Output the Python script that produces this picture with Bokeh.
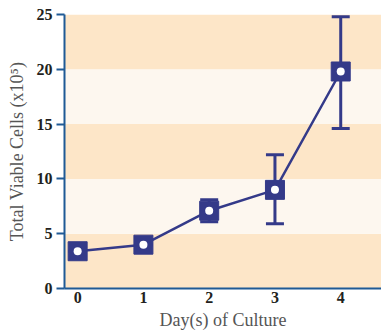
from bokeh.plotting import figure
from bokeh.models import ColumnDataSource, Whisker, TeeHead, FixedTicker
from bokeh.embed import file_html
from bokeh.resources import INLINE

days = [0, 1, 2, 3, 4]
cells = [3.4, 4.0, 7.1, 9.0, 19.8]
err_low = [3.4, 4.0, 6.1, 5.9, 14.6]
err_high = [3.4, 4.0, 8.1, 12.2, 24.8]
y_ticks = [0, 5, 10, 15, 20, 25]
x_ticks = [0, 1, 2, 3, 4]
band_bottom = [0, 5, 10, 15, 20]
band_top = [5, 10, 15, 20, 25]

NAVY = "#343A89"
AXIS = "#1F5A96"
band_colors = ["#FDE6C8", "#FDF7EF", "#FDE6C8", "#FDF7EF", "#FDE6C8"]

p = figure(width=381, height=332, output_backend="svg", toolbar_location=None,
           x_range=(-0.2, 4.62), y_range=(0, 25),
           min_border_left=64, min_border_right=0, min_border_top=14, min_border_bottom=39)
p.xgrid.visible = False
p.ygrid.visible = False
p.outline_line_color = None
p.background_fill_color = "white"

bands = p.quad(left=-0.2, right=4.62, bottom=band_bottom, top=band_top,
               fill_color=band_colors, line_color=None)
bands.level = "image"

src = ColumnDataSource(dict(x=days, y=cells, lo=err_low, hi=err_high))
w = Whisker(source=src, base="x", lower="lo", upper="hi",
            line_color=NAVY, line_width=3, level="underlay",
            upper_head=TeeHead(size=18, line_color=NAVY, line_width=3),
            lower_head=TeeHead(size=18, line_color=NAVY, line_width=3))
p.add_layout(w)

p.line("x", "y", source=src, line_color=NAVY, line_width=2.5)
p.scatter("x", "y", source=src, marker="square", size=19, fill_color=NAVY, line_color=NAVY)
p.scatter("x", "y", source=src, marker="circle", size=8, fill_color="white", line_color=None)

tick_font = "Liberation Sans Narrow"
for ax in (p.xaxis[0], p.yaxis[0]):
    ax.axis_line_color = AXIS
    ax.axis_line_width = 2
    ax.major_tick_line_color = AXIS
    ax.major_tick_line_width = 2
    ax.minor_tick_line_color = None
    ax.major_label_text_font = tick_font
    ax.major_label_text_font_style = "bold"
    ax.major_label_text_font_size = "16px"
    ax.major_label_text_color = "#231F20"
    ax.axis_label_text_font = "Liberation Serif"
    ax.axis_label_text_font_style = "normal"
    ax.axis_label_text_font_size = "18px"
    ax.axis_label_text_color = "#555555"

p.yaxis.ticker = FixedTicker(ticks=y_ticks)
p.xaxis.ticker = FixedTicker(ticks=x_ticks)
p.yaxis.major_tick_out = 8
p.yaxis.major_tick_in = 0
p.xaxis.major_tick_out = 0
p.xaxis.major_tick_in = 0
p.yaxis.major_label_standoff = 4
p.xaxis.major_label_standoff = 3
p.yaxis.axis_label = "Total Viable Cells (x10\u2075)"
p.xaxis.axis_label = "Day(s) of Culture"
p.xaxis.axis_label_standoff = 4
p.yaxis.axis_label_standoff = 7

open("out.html", "w").write(file_html(p, INLINE))
